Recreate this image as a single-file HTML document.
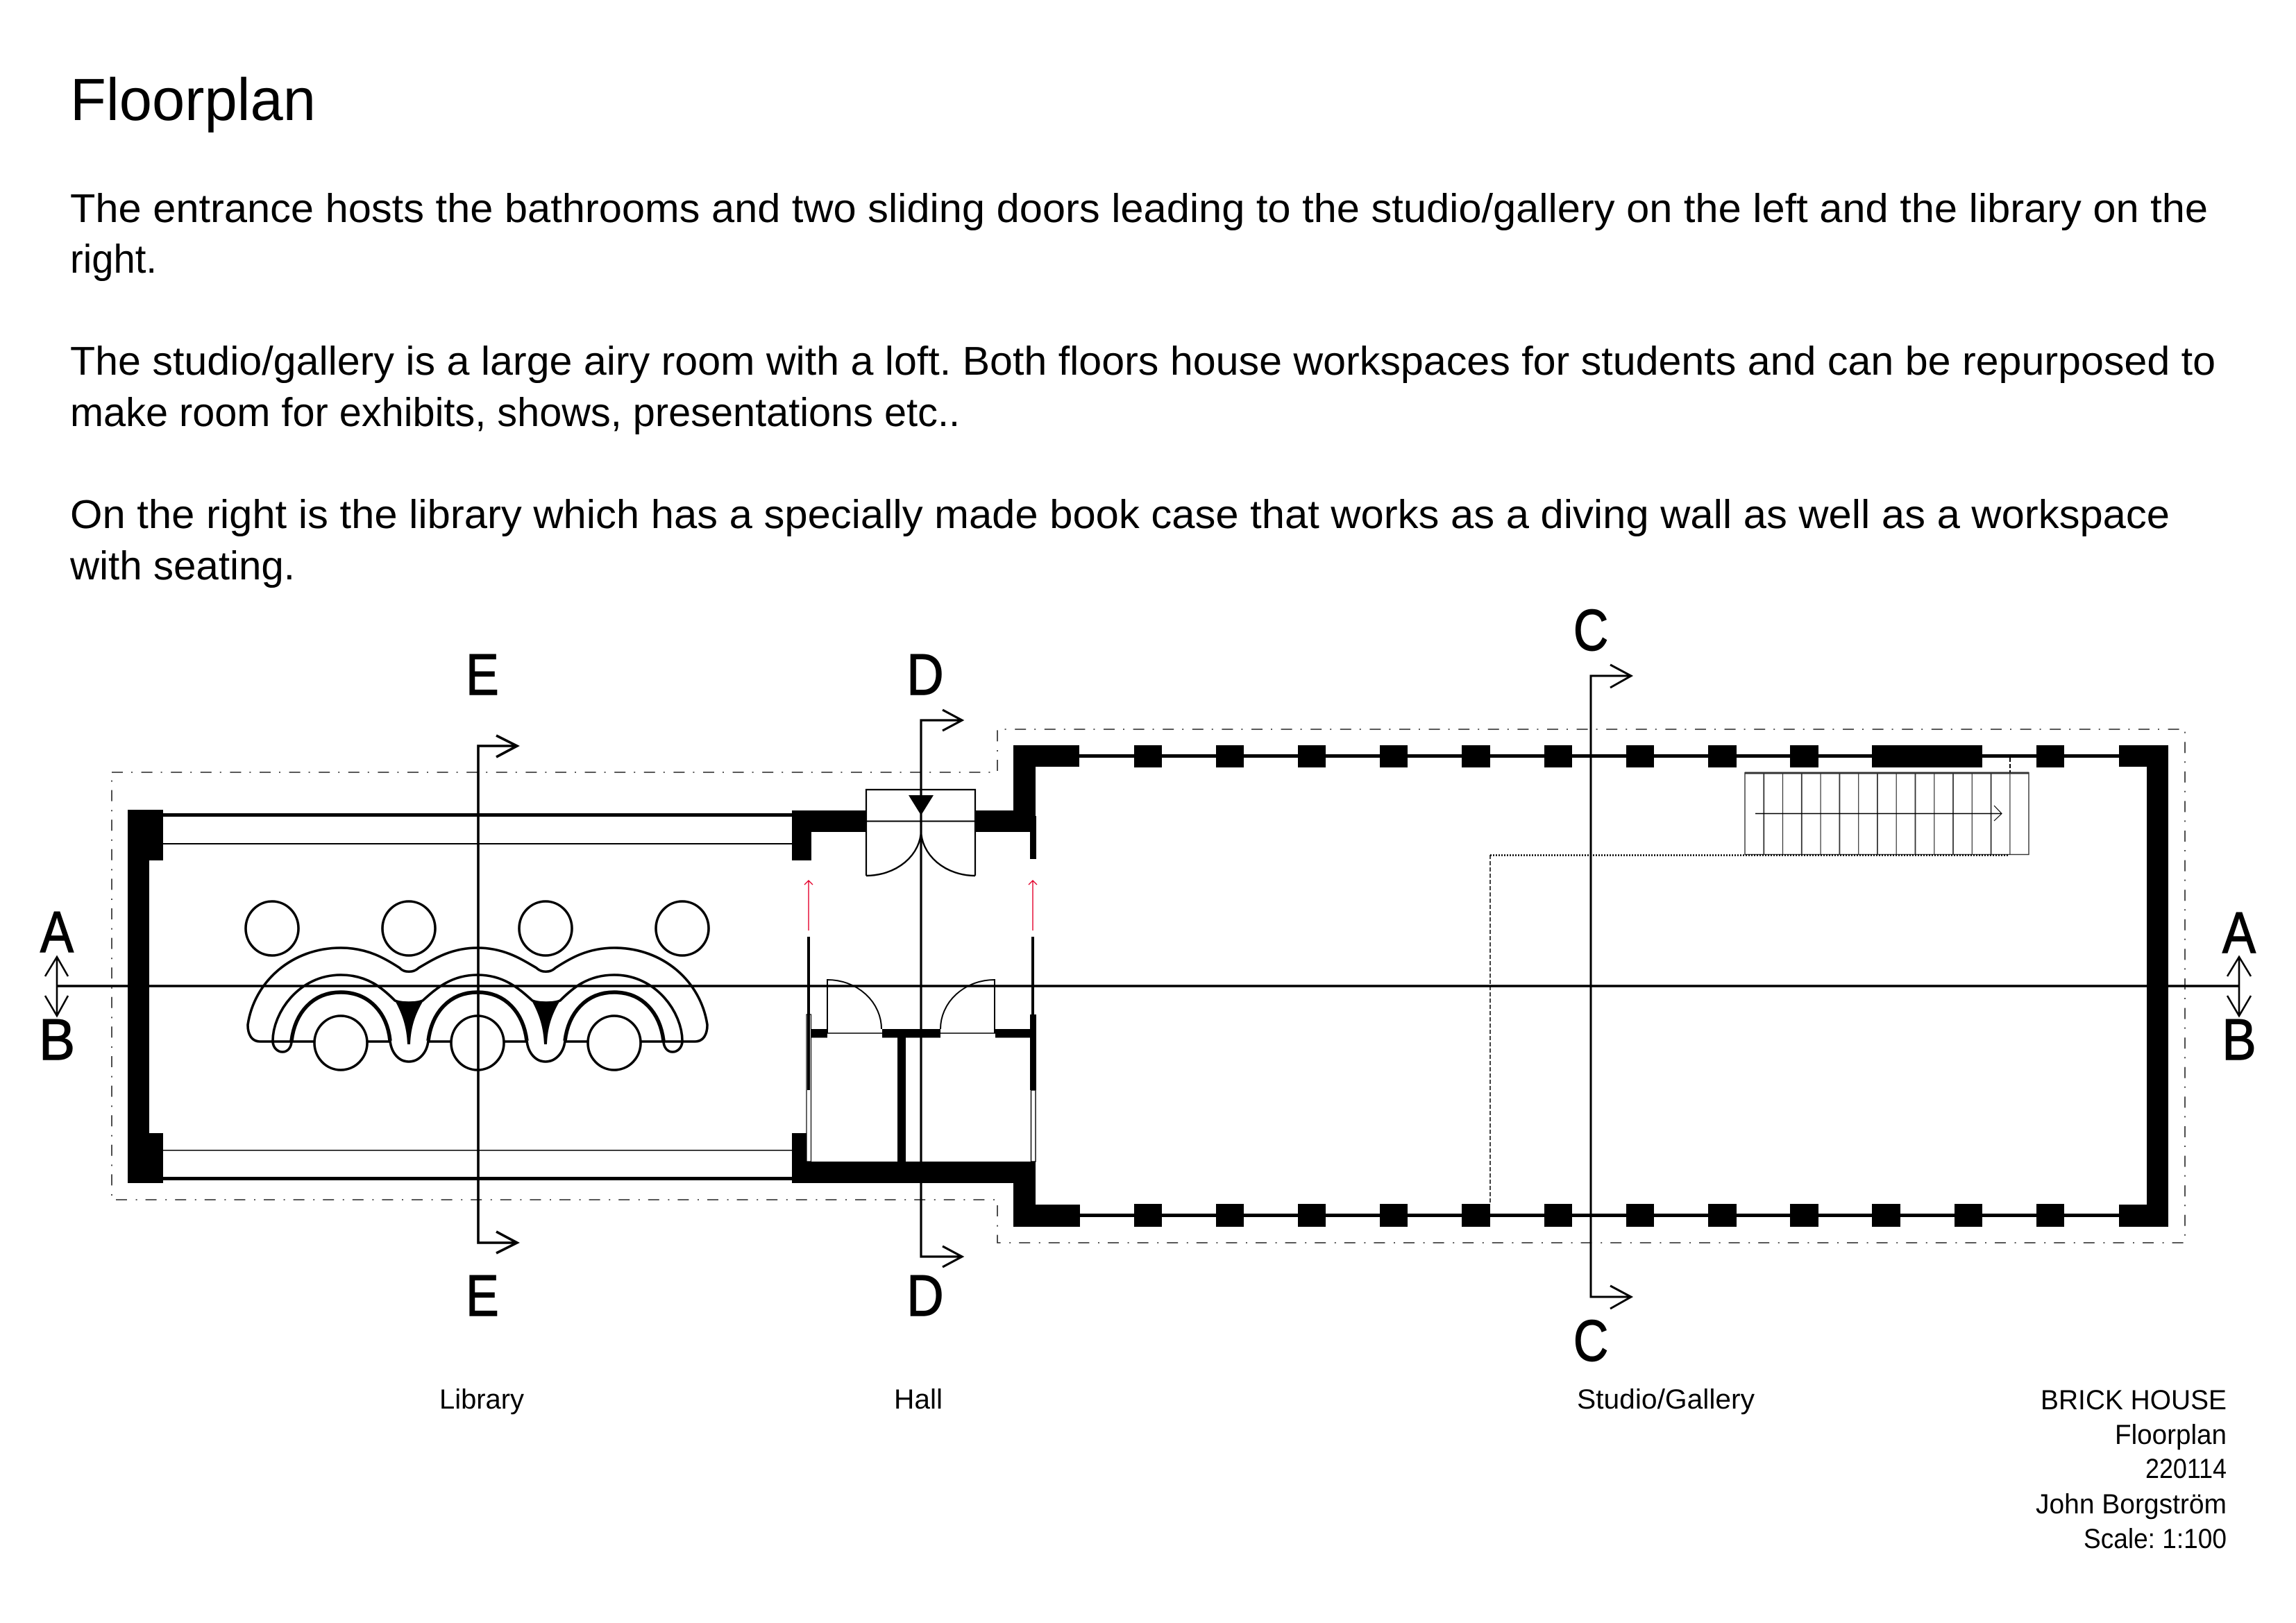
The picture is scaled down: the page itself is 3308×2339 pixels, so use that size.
<!DOCTYPE html>
<html><head><meta charset="utf-8"><title>Floorplan</title>
<style>html,body{margin:0;padding:0;background:#fff}svg{display:block}
text{font-family:"Liberation Sans",sans-serif;fill:#000;text-rendering:geometricPrecision}</style></head>
<body>
<svg xmlns="http://www.w3.org/2000/svg" width="3308" height="2339" viewBox="0 0 3308 2339">
<rect width="3308" height="2339" fill="#fff"/>
<!-- header text -->
<text x="101" y="173" font-size="86" textLength="354" lengthAdjust="spacingAndGlyphs">Floorplan</text>
<g font-size="58">
<text x="101" y="320" textLength="3080" lengthAdjust="spacingAndGlyphs">The entrance hosts the bathrooms and two sliding doors leading to the studio/gallery on the left and the library on the</text>
<text x="101" y="393" textLength="125" lengthAdjust="spacingAndGlyphs">right.</text>
<text x="101" y="540" textLength="3091" lengthAdjust="spacingAndGlyphs">The studio/gallery is a large airy room with a loft. Both floors house workspaces for students and can be repurposed to</text>
<text x="101" y="614" textLength="1282" lengthAdjust="spacingAndGlyphs">make room for exhibits, shows, presentations etc..</text>
<text x="101" y="761" textLength="3025" lengthAdjust="spacingAndGlyphs">On the right is the library which has a specially made book case that works as a diving wall as well as a workspace</text>
<text x="101" y="835" textLength="324" lengthAdjust="spacingAndGlyphs">with seating.</text>
</g>
<!-- dash-dot outline -->
<path d="M161,1113H1437V1051H3148V1791H1437V1729H161Z" fill="none" stroke="#222" stroke-width="1.6" stroke-dasharray="16 12 2 12.6"/>
<!-- library -->
<g fill="#000">
<rect x="184" y="1167" width="51" height="73"/><rect x="184" y="1167" width="31" height="538"/><rect x="184" y="1633" width="51" height="72"/>
<rect x="235" y="1172" width="906" height="5"/><rect x="235" y="1696" width="906" height="5"/>
<rect x="235" y="1215" width="906" height="2"/><rect x="235" y="1657" width="906" height="1.5"/>
<!-- hall walls -->
<rect x="1141" y="1168" width="107" height="31"/><rect x="1141" y="1168" width="28" height="72"/>
<rect x="1405" y="1168" width="55" height="31"/><rect x="1484" y="1176" width="9" height="62"/>
<rect x="1141" y="1633" width="21" height="72"/><rect x="1141" y="1674" width="351" height="31"/>
<rect x="1168" y="1483" width="24" height="12.5"/><rect x="1271" y="1483" width="84" height="12.5"/><rect x="1434" y="1483" width="50" height="12.5"/>
<rect x="1293" y="1495" width="12" height="180"/>
<rect x="1163" y="1350" width="4" height="221"/><rect x="1486" y="1350" width="4" height="112"/><rect x="1484" y="1462" width="9" height="109"/>
<!-- studio walls -->
<rect x="1460" y="1074" width="95" height="31"/><rect x="1460" y="1074" width="32" height="125"/>
<rect x="1460" y="1705" width="32" height="63"/><rect x="1460" y="1736" width="96" height="32"/>
<rect x="3053" y="1074" width="71" height="31"/><rect x="3093" y="1074" width="31" height="694"/><rect x="3053" y="1736" width="71" height="32"/>
<rect x="1555" y="1087" width="1500" height="5"/><rect x="1555" y="1749" width="1500" height="5"/>
<rect x="1634" y="1074" width="40" height="32"/><rect x="1752" y="1074" width="40" height="32"/><rect x="1870" y="1074" width="40" height="32"/><rect x="1988" y="1074" width="40" height="32"/><rect x="2106" y="1074" width="41" height="32"/><rect x="2225" y="1074" width="40" height="32"/><rect x="2343" y="1074" width="40" height="32"/><rect x="2461" y="1074" width="41" height="32"/><rect x="2579" y="1074" width="41" height="32"/><rect x="2697" y="1074" width="159" height="32"/><rect x="2934" y="1074" width="40" height="32"/>
<rect x="1634" y="1735" width="40" height="33"/><rect x="1752" y="1735" width="40" height="33"/><rect x="1870" y="1735" width="40" height="33"/><rect x="1988" y="1735" width="40" height="33"/><rect x="2106" y="1735" width="41" height="33"/><rect x="2225" y="1735" width="40" height="33"/><rect x="2343" y="1735" width="40" height="33"/><rect x="2461" y="1735" width="41" height="33"/><rect x="2579" y="1735" width="41" height="33"/><rect x="2697" y="1735" width="41" height="33"/><rect x="2816" y="1735" width="40" height="33"/><rect x="2934" y="1735" width="40" height="33"/>
</g>
<!-- hall thin parts -->
<g fill="none" stroke="#000">
<path d="M1248,1262V1138H1405V1262" stroke-width="2.2"/>
<path d="M1248,1183.5H1405" stroke-width="2"/>
<path d="M1327,1196A79,66 0 0 1 1248,1262M1327,1196A78,66 0 0 0 1405,1262" stroke-width="2.4"/>
<path d="M1192,1489V1412A78,71 0 0 1 1270,1483" stroke-width="2"/>
<path d="M1433,1489V1412A78,71 0 0 0 1355,1483" stroke-width="2"/>
<path d="M1192,1489H1271M1355,1489H1434" stroke-width="1.6"/>
<rect x="1162" y="1462" width="6.5" height="212" stroke-width="1.2"/>
<rect x="1485.5" y="1571" width="6.5" height="103" stroke-width="1.4"/>
</g>
<g fill="none" stroke="#e3002a" stroke-width="1.4">
<path d="M1165,1341V1269M1159,1275L1165,1269L1171,1275"/>
<path d="M1488,1341V1269M1482,1275L1488,1269L1494,1275"/>
</g>
<!-- stairs -->
<g fill="none" stroke="#333">
<rect x="2514" y="1113.5" width="409" height="118" stroke-width="1.4"/>
<path d="M2514,1114H2923" stroke-width="3"/>
<path d="M2541.3,1114V1232M2595.8,1114V1232M2650.4,1114V1232M2704.9,1114V1232M2759.5,1114V1232M2814,1114V1232M2868.6,1114V1232" stroke-width="1.8"/>
<path d="M2568.5,1114V1232M2623.1,1114V1232M2677.7,1114V1232M2732.2,1114V1232M2786.8,1114V1232M2841.3,1114V1232M2895.9,1114V1232" stroke-width="1.2"/>
<path d="M2529,1172.5H2884" stroke="#000" stroke-width="1.6"/>
<path d="M2873,1161L2884,1172.5L2873,1183" stroke="#000" stroke-width="1.2"/>
</g>
<g fill="none" stroke="#000">
<path d="M2147,1232.5H2893" stroke-width="2.6" stroke-dasharray="2 2"/>
<path d="M2147,1232V1735" stroke-width="1.5" stroke-dasharray="6 3"/>
<path d="M2896,1092V1113" stroke-width="2" stroke-dasharray="6 3"/>
</g>
<!-- library bookcase -->
<g id="half" fill="none" stroke="#000" stroke-width="3.6">
<path d="M375,1501C362,1501 357,1490 357,1477C366,1415 420,1366 491,1366C530,1366 556,1382 576,1395C582,1402 596,1402 603,1395C625,1382 650,1366 688,1366C726,1366 751,1382 773,1395C780,1402 793,1402 800,1395C820,1382 846,1366 885,1366C956,1366 1010,1415 1019,1477C1019,1490 1014,1501 1001,1501"/>
<path d="M393,1500C393,1460 430,1405 491,1405C530,1405 552,1425 569,1442C578,1446 600,1446 609,1442C628,1425 650,1405 688,1405C726,1405 748,1425 767,1442C776,1446 798,1446 807,1442C824,1425 846,1405 885,1405C946,1405 983,1460 983,1500"/>
<path d="M393,1500C393,1510 400,1516 407,1516C414,1516 420,1510 420,1500"/>
<path d="M956,1500C956,1510 962,1516 969,1516C976,1516 983,1510 983,1500"/>
<path d="M562,1500C564,1518 575,1530 589,1530C603,1530 615,1518 617,1500"/>
<path d="M759,1500C761,1518 772,1530 786,1530C800,1530 812,1518 814,1500"/>
<path d="M420,1500C425,1460 450,1430 491,1430C532,1430 558,1460 562,1500M617,1500C622,1460 647,1430 688,1430C729,1430 754,1460 759,1500M814,1500C819,1460 844,1430 885,1430C926,1430 951,1460 956,1500" stroke-width="5.5"/>
<path d="M375,1501H562M617,1501H759M814,1501H1001"/>
<path d="M569,1442C578,1446 600,1446 610,1442C598,1462 592,1480 591,1505H587C586,1480 580,1462 569,1442Z" fill="#000" stroke="none"/>
<path d="M766,1442C775,1446 797,1446 807,1442C795,1462 789,1480 788,1505H784C783,1480 777,1462 766,1442Z" fill="#000" stroke="none"/>
<g fill="#fff">
<ellipse cx="392" cy="1338" rx="38" ry="39"/><ellipse cx="589" cy="1338" rx="38" ry="39"/><ellipse cx="786" cy="1338" rx="38" ry="39"/><ellipse cx="983" cy="1338" rx="38" ry="39"/>
<ellipse cx="491" cy="1503" rx="38" ry="39"/><ellipse cx="688" cy="1503" rx="38" ry="39"/><ellipse cx="885" cy="1503" rx="38" ry="39"/>
</g>
</g>
<!-- section lines -->
<g fill="none" stroke="#000">
<path d="M82,1421H3226" stroke-width="3.6"/>
<path d="M745,1075H689V1791H745M715,1060L745,1075L715,1091M715,1775L745,1791L715,1806" stroke-width="3.6"/>
<path d="M1386,1038H1327V1811H1386M1358,1023L1386,1038L1358,1053M1358,1796L1386,1811L1358,1826" stroke-width="3.2"/>
<path d="M2350,974H2292V1869H2350M2320,958L2350,974L2320,991M2320,1853L2350,1869L2320,1886" stroke-width="3"/>
<path d="M82,1379V1464M65,1407L82,1379L98,1407M65,1435L82,1464L98,1435" stroke-width="2.6"/>
<path d="M3226,1379V1464M3209,1407L3226,1379L3243,1407M3209,1435L3226,1464L3243,1435" stroke-width="2.6"/>
</g>
<path d="M1309,1146H1345L1327,1175Z" fill="#000"/>
<!-- section letters -->
<g font-size="84" text-anchor="middle" stroke="#000" stroke-width="1.4">
<text transform="translate(82,1372) scale(.86,1)">A</text>
<text transform="translate(82,1527) scale(.93,1)">B</text>
<text transform="translate(3226,1373) scale(.86,1)">A</text>
<text transform="translate(3226,1527) scale(.88,1)">B</text>
<text transform="translate(695,1001) scale(.85,1)">E</text>
<text transform="translate(695,1896) scale(.85,1)">E</text>
<text transform="translate(1333,1001) scale(.88,1)">D</text>
<text transform="translate(1333,1896) scale(.88,1)">D</text>
<text transform="translate(2292,937) scale(.83,1)">C</text>
<text transform="translate(2292,1961) scale(.83,1)">C</text>
</g>
<!-- captions -->
<g font-size="40">
<text x="633" y="2030" textLength="122" lengthAdjust="spacingAndGlyphs">Library</text>
<text x="1288" y="2030" textLength="70" lengthAdjust="spacingAndGlyphs">Hall</text>
<text x="2272" y="2030" textLength="256" lengthAdjust="spacingAndGlyphs">Studio/Gallery</text>
<text x="2940" y="2031" textLength="268" lengthAdjust="spacingAndGlyphs">BRICK HOUSE</text>
<text x="3047" y="2081" textLength="161" lengthAdjust="spacingAndGlyphs">Floorplan</text>
<text x="3091" y="2130" textLength="117" lengthAdjust="spacingAndGlyphs">220114</text>
<text x="2933" y="2181" textLength="275" lengthAdjust="spacingAndGlyphs">John Borgström</text>
<text x="3002" y="2231" textLength="206" lengthAdjust="spacingAndGlyphs">Scale: 1:100</text>
</g>
</svg>
</body></html>
